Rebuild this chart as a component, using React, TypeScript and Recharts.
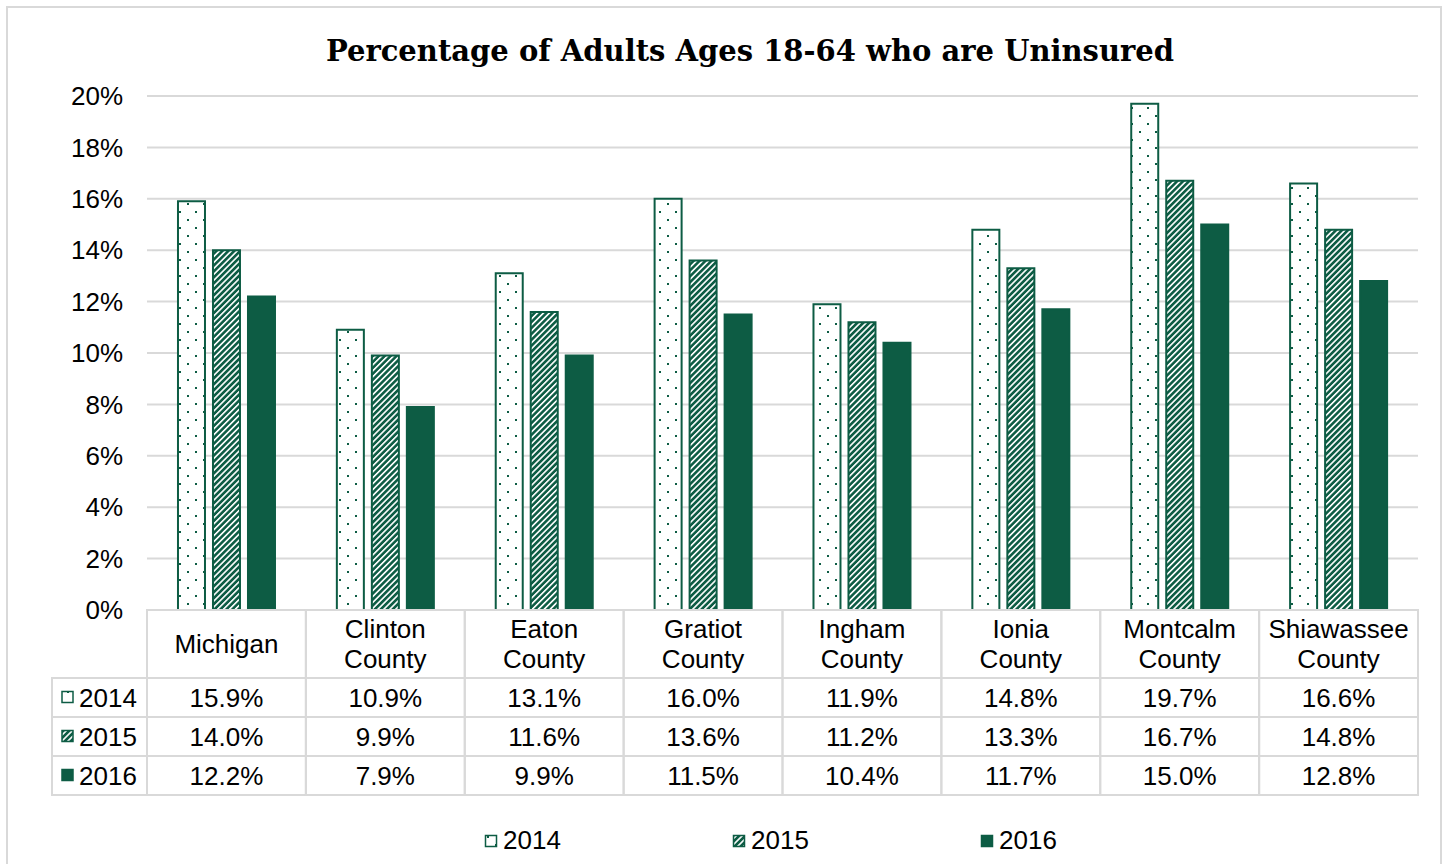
import React from 'react';
import { BarChart, Bar, XAxis, YAxis, CartesianGrid, Legend } from 'recharts';

const areas = ['Michigan', 'Clinton County', 'Eaton County', 'Gratiot County', 'Ingham County', 'Ionia County', 'Montcalm County', 'Shiawassee County'];
const y2014 = [15.9, 10.9, 13.1, 16.0, 11.9, 14.8, 19.7, 16.6];
const y2015 = [14.0, 9.9, 11.6, 13.6, 11.2, 13.3, 16.7, 14.8];
const y2016 = [12.2, 7.9, 9.9, 11.5, 10.4, 11.7, 15.0, 12.8];
const years = ['2014', '2015', '2016'];
const yTicks = [0, 2, 4, 6, 8, 10, 12, 14, 16, 18, 20];

const data = areas.map((name, i) => ({ name, y2014: y2014[i], y2015: y2015[i], y2016: y2016[i] }));
const series = [
  { key: 'y2014', label: years[0], fill: 'url(#dots)' },
  { key: 'y2015', label: years[1], fill: 'url(#stripes)' },
  { key: 'y2016', label: years[2], fill: '#0d5c44' },
];

const GREEN = '#0d5c44';
const BORDER = '#d9d9d9';
const FONT = '"Liberation Sans", Arial, sans-serif';

const WIDTH = 1448;
const HEIGHT = 864;
const MARGIN = { top: 96, right: 30, left: 0, bottom: 0 };
const YAXIS_W = 147;
const XAXIS_H = 254;
const PLOT_BOTTOM = HEIGHT - MARGIN.bottom - XAXIS_H;
const CELL_W = (WIDTH - MARGIN.left - MARGIN.right - YAXIS_W) / areas.length;
const HEAD_H = 68;
const ROW_H = 39;
const LABEL_LEFT = 52;

const Swatch = ({ fill, x, y }: { fill: string; x: number; y: number }) => (
  <rect x={x} y={y} width={11} height={11} fill={fill} stroke={GREEN} strokeWidth={1.5} />
);

// draws the data table below the plot, one column per category
const TableTick = (props: any) => {
  const { x, payload, index } = props;
  const i = areas.indexOf(payload.value);
  const left = x - CELL_W / 2;
  const words = payload.value.split(' ');
  const lines = words.length > 1 ? [words.slice(0, -1).join(' '), words[words.length - 1]] : words;
  const vals = [y2014[i], y2015[i], y2016[i]];
  return (
    <g fontFamily={FONT} fontSize={26} fill="#000">
      <rect x={left} y={PLOT_BOTTOM} width={CELL_W} height={HEAD_H + ROW_H * 3} fill="none" stroke={BORDER} strokeWidth={2} />
      {lines.map((l: string, k: number) => (
        <text key={k} x={x} y={PLOT_BOTTOM + HEAD_H / 2 + (k - (lines.length - 1) / 2) * 30} textAnchor="middle" dy="0.35em">{l}</text>
      ))}
      {vals.map((v, r) => (
        <g key={r}>
          <line x1={left} x2={left + CELL_W} y1={PLOT_BOTTOM + HEAD_H + r * ROW_H} y2={PLOT_BOTTOM + HEAD_H + r * ROW_H} stroke={BORDER} strokeWidth={2} />
          <text x={x} y={PLOT_BOTTOM + HEAD_H + r * ROW_H + ROW_H / 2} textAnchor="middle" dy="0.35em">{v.toFixed(1)}%</text>
        </g>
      ))}
      {index === 0 && (
        <g>
          {series.map((s, r) => {
            const top = PLOT_BOTTOM + HEAD_H + r * ROW_H;
            return (
              <g key={s.key}>
                <rect x={LABEL_LEFT} y={top} width={left - LABEL_LEFT} height={ROW_H} fill="none" stroke={BORDER} strokeWidth={2} />
                <Swatch fill={s.fill} x={LABEL_LEFT + 10} y={top + ROW_H / 2 - 6} />
                <text x={LABEL_LEFT + 27} y={top + ROW_H / 2} dy="0.35em">{s.label}</text>
              </g>
            );
          })}
        </g>
      )}
    </g>
  );
};

const PercentTick = (props: any) => {
  const { y, payload } = props;
  return (
    <text x={YAXIS_W - 24} y={y} textAnchor="end" dy="0.35em" fontFamily={FONT} fontSize={26} fill="#000">
      {payload.value}%
    </text>
  );
};

const LegendContent = () => (
  <div style={{ display: 'flex', fontFamily: FONT, fontSize: 26, color: '#000' }}>
    {series.map((s) => (
      <div key={s.key} style={{ width: 248, display: 'flex', alignItems: 'center' }}>
        <svg width={16} height={16} style={{ marginRight: 3 }}>
          <Swatch fill={s.fill} x={1.5} y={2.5} />
        </svg>
        <span>{s.label}</span>
      </div>
    ))}
  </div>
);

export default function App() {
  return (
    <div style={{ position: 'absolute', left: 0, top: 0, width: WIDTH, height: HEIGHT, background: '#fff', overflow: 'hidden' }}>
      <div style={{ position: 'absolute', left: 6, top: 6, width: 1432, height: 900, border: `2px solid ${BORDER}` }} />
      <div
        style={{
          position: 'absolute', left: 0, top: 34, width: 1500, textAlign: 'center',
          fontFamily: '"DejaVu Serif", serif', fontWeight: 'bold', fontSize: 29, color: '#000',
        }}
      >
        Percentage of Adults Ages 18-64 who are Uninsured
      </div>
      <BarChart
        width={WIDTH}
        height={HEIGHT}
        data={data}
        margin={MARGIN}
        barCategoryGap="19.5%"
        barGap={8}
        style={{ position: 'absolute', left: 0, top: 0 }}
      >
        <defs>
          <pattern id="dots" patternUnits="userSpaceOnUse" width={16} height={16}>
            <rect width={16} height={16} fill="#fff" />
            <rect x={3} y={3} width={2} height={2} fill={GREEN} />
            <rect x={11} y={11} width={2} height={2} fill={GREEN} />
          </pattern>
          <pattern id="stripes" patternUnits="userSpaceOnUse" width={4.2} height={4.2} patternTransform="rotate(45)">
            <rect width={4.2} height={4.2} fill={GREEN} />
            <rect x={0} y={0} width={1.6} height={4.2} fill="#fff" />
          </pattern>
        </defs>
        <CartesianGrid vertical={false} stroke={BORDER} strokeWidth={2} />
        <XAxis dataKey="name" height={XAXIS_H} axisLine={false} tickLine={false} interval={0} tick={<TableTick />} />
        <YAxis width={YAXIS_W} domain={[0, 20]} ticks={yTicks} axisLine={false} tickLine={false} tick={<PercentTick />} />
        <Legend
          verticalAlign="middle"
          align="center"
          layout="horizontal"
          content={<LegendContent />}
          wrapperStyle={{ position: 'absolute', top: 825, left: 484, width: 760 }}
        />
        {series.map((s) => (
          <Bar key={s.key} dataKey={s.key} name={s.label} fill={s.fill} stroke={GREEN} strokeWidth={2} isAnimationActive={false} />
        ))}
      </BarChart>
    </div>
  );
}
